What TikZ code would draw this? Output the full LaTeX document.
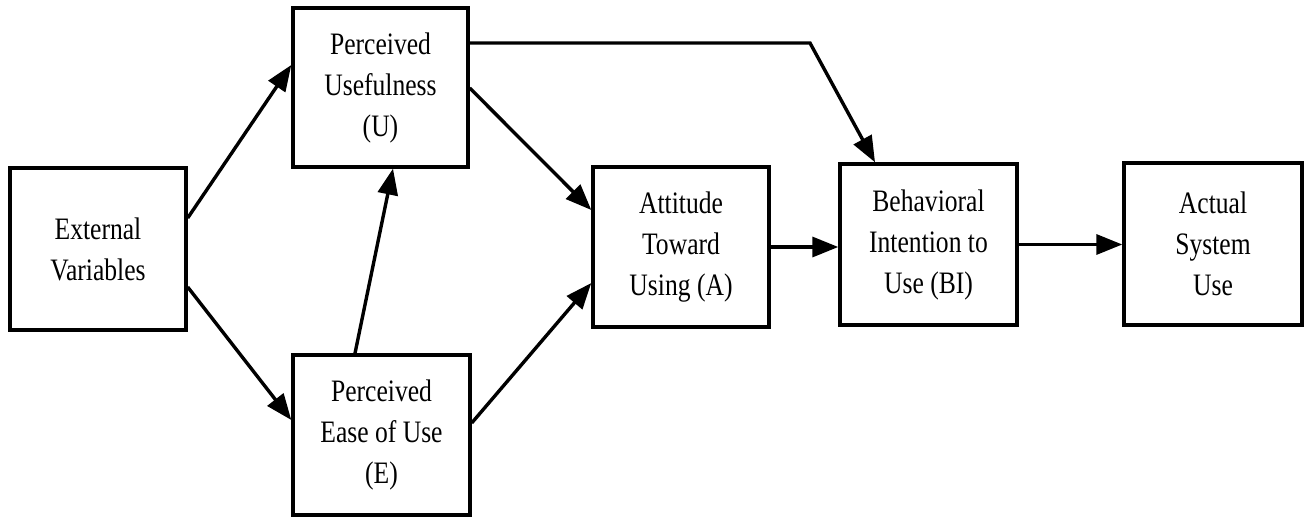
\documentclass[tikz,border=0pt]{standalone}
\usepackage{fontspec}
\setmainfont{Liberation Serif}
\usetikzlibrary{arrows.meta,calc}
\newcommand\sq[1]{\scalebox{0.82}[1]{#1}}
\tikzset{
  box/.style={draw, line width=1.7pt, inner sep=0pt, align=center,
    font=\fontsize{15.6}{20.5}\selectfont},
  conn/.style={line width=1.7pt, -{Triangle[length=13pt,width=10pt]}}
}
\begin{document}
\begin{tikzpicture}[x=0.5pt,y=-0.5pt]
\useasboundingbox[fill=white] (0,0) rectangle (1304,518);
\node[box, minimum width=88pt, minimum height=81pt] (ext) at (98,249) {\sq{External}\\\sq{Variables}};
\node[box, minimum width=87.5pt, minimum height=79.5pt] (pu) at (380.5,87.5) {\sq{Perceived}\\\sq{Usefulness}\\\sq{(U)}};
\node[box, minimum width=88.5pt, minimum height=80pt] (pe) at (381.5,435) {\sq{Perceived}\\\sq{Ease of Use}\\\sq{(E)}};
\node[box, minimum width=88pt, minimum height=80pt] (att) at (681,247) {\sq{Attitude}\\\sq{Toward}\\\sq{Using (A)}};
\node[box, minimum width=88.5pt, minimum height=80.5pt] (bi) at (928.5,244.5) {\sq{Behavioral}\\\sq{Intention to}\\\sq{Use (BI)}};
\node[box, minimum width=89pt, minimum height=81pt] (act) at (1213,244) {\sq{Actual}\\\sq{System}\\\sq{Use}};
\coordinate (corner) at (810,43);
\draw[conn] ($(ext.east)+(0,-31)$) -- ($(pu.west)+(0,-22.5)$);
\draw[conn] ($(ext.east)+(0,38)$) -- ($(pe.west)+(0,-15)$);
\draw[conn] ($(pe.north)+(-26.5,0)$) -- ($(pu.south)+(12.5,0)$);
\draw[conn] ($(pu.east)+(0,0.5)$) -- ($(att.west)+(0,-37)$);
\draw[conn] ($(pe.east)+(0,-12)$) -- ($(att.west)+(0,36)$);
\draw[conn, line join=miter] (pu.east |- corner) -- (corner) -- ($(bi.north)+(-53.5,0)$);
\draw[conn] (att.east) -- (att.east -| bi.west);
\draw[conn] (bi.east) -- (bi.east -| act.west);
\end{tikzpicture}
\end{document}
